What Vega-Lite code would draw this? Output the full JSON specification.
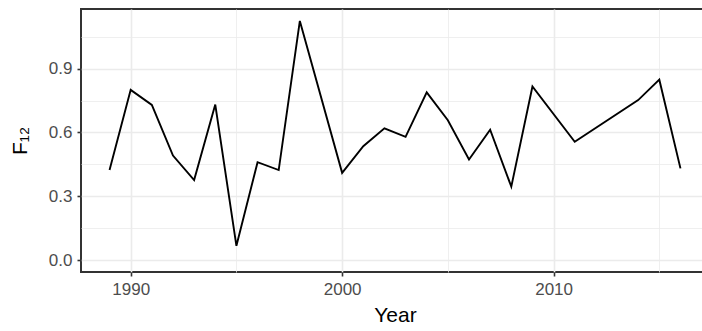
{
  "$schema": "https://vega.github.io/schema/vega-lite/v6.json",
  "width": 628,
  "height": 263,
  "autosize": {"type": "none"},
  "padding": {"left": 81, "top": 9, "right": 0, "bottom": 59},
  "background": "white",
  "data": {
    "values": [
      {"Year": 1989, "F12": 0.423},
      {"Year": 1990, "F12": 0.800},
      {"Year": 1991, "F12": 0.729},
      {"Year": 1992, "F12": 0.491},
      {"Year": 1993, "F12": 0.376},
      {"Year": 1994, "F12": 0.731},
      {"Year": 1995, "F12": 0.067},
      {"Year": 1996, "F12": 0.460},
      {"Year": 1997, "F12": 0.423},
      {"Year": 1998, "F12": 1.124},
      {"Year": 2000, "F12": 0.410},
      {"Year": 2001, "F12": 0.535},
      {"Year": 2002, "F12": 0.619},
      {"Year": 2003, "F12": 0.579},
      {"Year": 2004, "F12": 0.788},
      {"Year": 2005, "F12": 0.657},
      {"Year": 2006, "F12": 0.473},
      {"Year": 2007, "F12": 0.613},
      {"Year": 2008, "F12": 0.345},
      {"Year": 2009, "F12": 0.816},
      {"Year": 2011, "F12": 0.556},
      {"Year": 2014, "F12": 0.752},
      {"Year": 2015, "F12": 0.848},
      {"Year": 2016, "F12": 0.431}
    ]
  },
  "mark": {"type": "line", "color": "black", "strokeWidth": 1.9, "clip": true},
  "encoding": {
    "x": {
      "field": "Year",
      "type": "quantitative",
      "scale": {"domain": [1987.65, 2017.35], "nice": false, "zero": false},
      "axis": {
        "title": "Year",
        "values": [1990, 1995, 2000, 2005, 2010, 2015],
        "labelExpr": "datum.value % 10 == 0 ? format(datum.value, 'd') : ''",
        "gridWidth": {"condition": {"test": "datum.value % 10 == 0", "value": 1.6}, "value": 0.8},
        "tickOpacity": {"condition": {"test": "datum.value % 10 == 0", "value": 1}, "value": 0},
        "labelPadding": 5,
        "titlePadding": 7
      }
    },
    "y": {
      "field": "F12",
      "type": "quantitative",
      "scale": {"domain": [-0.0562, 1.1802], "nice": false, "zero": false},
      "axis": {
        "title": "F₁₂",
        "values": [0, 0.15, 0.3, 0.45, 0.6, 0.75, 0.9, 1.05],
        "labelExpr": "abs((datum.value * 10) % 3) < 0.01 ? format(datum.value, '.1f') : ''",
        "gridWidth": {"condition": {"test": "abs((datum.value * 10) % 3) < 0.01", "value": 1.6}, "value": 0.8},
        "tickOpacity": {"condition": {"test": "abs((datum.value * 10) % 3) < 0.01", "value": 1}, "value": 0},
        "labelPadding": 5,
        "titlePadding": 18
      }
    }
  },
  "config": {
    "view": {"stroke": "#333333", "strokeWidth": 2},
    "axis": {
      "domain": false,
      "grid": true,
      "gridColor": "#EBEBEB",
      "tickColor": "#333333",
      "tickSize": 4,
      "tickWidth": 1.6,
      "labelFont": "Liberation Sans",
      "labelFontSize": 17,
      "labelColor": "#4D4D4D",
      "titleFont": "Liberation Sans",
      "titleFontSize": 21,
      "titleFontWeight": "normal",
      "titleColor": "#000000"
    }
  }
}
